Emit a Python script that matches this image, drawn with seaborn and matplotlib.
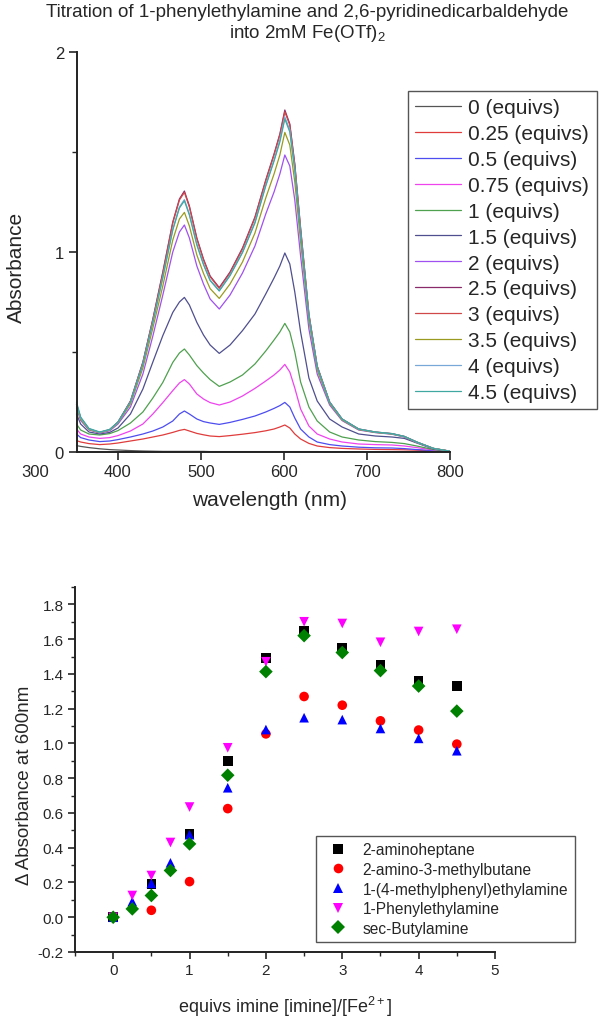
import pandas as pd
import matplotlib
matplotlib.use("Agg")
import matplotlib.pyplot as plt
import seaborn as sns
from matplotlib.ticker import MultipleLocator

sns.set_style("ticks")
plt.rcParams["font.family"] = ["Liberation Sans", "DejaVu Sans"]
plt.rcParams["mathtext.fontset"] = "custom"
plt.rcParams["mathtext.rm"] = "Liberation Sans"
plt.rcParams["mathtext.it"] = "Liberation Sans:italic"

# ---- spectra (top panel) ----
wavelength = [350, 355, 365, 378, 390, 400, 415, 430, 442, 454, 466, 474, 480, 486, 495,
              503, 511, 522, 535, 550, 565, 578, 588, 595, 601, 607, 613, 620, 630, 640,
              655, 670, 690, 710, 730, 745, 760, 780, 800]

eq_labels = ["0 (equivs)", "0.25 (equivs)", "0.5 (equivs)", "0.75 (equivs)", "1 (equivs)",
             "1.5 (equivs)", "2 (equivs)", "2.5 (equivs)", "3 (equivs)", "3.5 (equivs)",
             "4 (equivs)", "4.5 (equivs)"]

eq_colors = ["#555555", "#e03c3c", "#4d4df0", "#ee44ee", "#4fa04f", "#4f4f8f",
             "#a050f0", "#8b2a6b", "#d04848", "#9a9a20", "#78a8d8", "#40a8a0"]

abs_0 = [0.032, 0.028, 0.022, 0.016, 0.012, 0.010, 0.007, 0.005, 0.004, 0.003, 0.003, 0.003, 0.003,
         0.003, 0.003, 0.003, 0.002, 0.002, 0.002, 0.002, 0.002, 0.002, 0.002, 0.002, 0.002, 0.002,
         0.002, 0.002, 0.002, 0.002, 0.001, 0.001, 0.001, 0.001, 0.001, 0.001, 0.001, 0.001, 0.001]
abs_025 = [0.057, 0.050, 0.042, 0.037, 0.040, 0.045, 0.055, 0.065, 0.075, 0.085, 0.098, 0.108, 0.113,
           0.105, 0.093, 0.086, 0.080, 0.077, 0.082, 0.089, 0.097, 0.106, 0.115, 0.125, 0.135, 0.120,
           0.090, 0.065, 0.043, 0.030, 0.022, 0.018, 0.015, 0.013, 0.012, 0.011, 0.009, 0.005, 0.002]
abs_05 = [0.090, 0.072, 0.060, 0.052, 0.055, 0.062, 0.075, 0.090, 0.105, 0.125, 0.155, 0.190, 0.205,
          0.190, 0.165, 0.152, 0.145, 0.138, 0.148, 0.163, 0.180, 0.200, 0.218, 0.232, 0.248, 0.225,
          0.170, 0.115, 0.075, 0.050, 0.037, 0.030, 0.024, 0.021, 0.020, 0.017, 0.012, 0.007, 0.002]
abs_075 = [0.115, 0.090, 0.075, 0.068, 0.072, 0.082, 0.105, 0.140, 0.190, 0.247, 0.307, 0.345, 0.362,
           0.340, 0.290, 0.265, 0.247, 0.235, 0.250, 0.280, 0.318, 0.355, 0.385, 0.410, 0.438, 0.400,
           0.320, 0.215, 0.130, 0.090, 0.065, 0.050, 0.040, 0.037, 0.035, 0.030, 0.022, 0.010, 0.003]
abs_1 = [0.140, 0.110, 0.090, 0.085, 0.092, 0.107, 0.145, 0.200, 0.270, 0.348, 0.448, 0.495, 0.515,
         0.485, 0.432, 0.395, 0.362, 0.328, 0.350, 0.385, 0.440, 0.505, 0.560, 0.600, 0.643, 0.600,
         0.500, 0.350, 0.225, 0.155, 0.100, 0.075, 0.060, 0.052, 0.048, 0.042, 0.030, 0.012, 0.003]
abs_15 = [0.190, 0.140, 0.100, 0.090, 0.098, 0.120, 0.190, 0.315, 0.450, 0.582, 0.698, 0.750, 0.773,
          0.735, 0.648, 0.585, 0.535, 0.493, 0.535, 0.607, 0.690, 0.790, 0.870, 0.930, 0.995, 0.940,
          0.800, 0.600, 0.370, 0.255, 0.165, 0.125, 0.090, 0.080, 0.075, 0.068, 0.045, 0.015, 0.003]
abs_2 = [0.220, 0.158, 0.110, 0.095, 0.106, 0.140, 0.225, 0.390, 0.580, 0.785, 1.000, 1.100, 1.135,
         1.070, 0.930, 0.840, 0.765, 0.715, 0.785, 0.895, 1.030, 1.190, 1.300, 1.390, 1.485, 1.430,
         1.260, 0.980, 0.615, 0.390, 0.235, 0.157, 0.110, 0.097, 0.089, 0.075, 0.047, 0.017, 0.004]
abs_25 = [0.240, 0.170, 0.115, 0.098, 0.112, 0.150, 0.255, 0.450, 0.665, 0.900, 1.150, 1.265, 1.305,
          1.230, 1.070, 0.965, 0.880, 0.822, 0.900, 1.020, 1.175, 1.360, 1.490, 1.590, 1.710, 1.640,
          1.440, 1.120, 0.690, 0.430, 0.250, 0.165, 0.115, 0.100, 0.092, 0.078, 0.050, 0.018, 0.004]
abs_3 = [0.238, 0.168, 0.114, 0.097, 0.111, 0.148, 0.253, 0.447, 0.662, 0.895, 1.145, 1.260, 1.298,
         1.225, 1.065, 0.960, 0.876, 0.818, 0.895, 1.015, 1.170, 1.355, 1.485, 1.585, 1.700, 1.635,
         1.435, 1.115, 0.688, 0.428, 0.249, 0.164, 0.114, 0.099, 0.091, 0.077, 0.049, 0.018, 0.004]
abs_35 = [0.230, 0.163, 0.112, 0.097, 0.109, 0.145, 0.240, 0.420, 0.620, 0.830, 1.060, 1.165, 1.198,
          1.130, 0.985, 0.893, 0.817, 0.768, 0.840, 0.950, 1.095, 1.270, 1.390, 1.485, 1.598, 1.535,
          1.350, 1.050, 0.655, 0.410, 0.242, 0.160, 0.112, 0.098, 0.090, 0.076, 0.048, 0.018, 0.004]
abs_4 = [0.240, 0.170, 0.115, 0.098, 0.111, 0.148, 0.250, 0.440, 0.650, 0.875, 1.115, 1.225, 1.262,
         1.190, 1.040, 0.940, 0.860, 0.807, 0.885, 1.000, 1.150, 1.335, 1.460, 1.560, 1.675, 1.610,
         1.415, 1.100, 0.680, 0.425, 0.248, 0.164, 0.114, 0.099, 0.091, 0.077, 0.049, 0.018, 0.004]
abs_45 = [0.250, 0.175, 0.118, 0.100, 0.113, 0.150, 0.250, 0.440, 0.648, 0.872, 1.110, 1.220, 1.256,
          1.185, 1.035, 0.937, 0.857, 0.805, 0.882, 0.997, 1.145, 1.330, 1.455, 1.550, 1.665, 1.600,
          1.410, 1.095, 0.678, 0.425, 0.249, 0.165, 0.115, 0.100, 0.092, 0.078, 0.050, 0.018, 0.004]

spectra = [abs_0, abs_025, abs_05, abs_075, abs_1, abs_15, abs_2, abs_25, abs_3, abs_35, abs_4, abs_45]

# ---- delta absorbance at 600 nm (bottom panel) ----
amines = ["2-aminoheptane", "2-amino-3-methylbutane", "1-(4-methylphenyl)ethylamine",
          "1-Phenylethylamine", "sec-Butylamine"]
amine_colors = ["#000000", "#ff0000", "#0000ff", "#ff00ff", "#008000"]
amine_markers = ["s", "o", "^", "v", "D"]

eq_heptane = [0, 0.5, 1, 1.5, 2, 2.5, 3, 3.5, 4, 4.5]
dA_heptane = [0.0, 0.19, 0.48, 0.90, 1.49, 1.65, 1.55, 1.45, 1.36, 1.33]
eq_methylbutane = [0, 0.5, 1, 1.5, 2, 2.5, 3, 3.5, 4, 4.5]
dA_methylbutane = [0.0, 0.04, 0.205, 0.625, 1.055, 1.27, 1.22, 1.13, 1.077, 0.996]
eq_methylphenyl = [0, 0.25, 0.5, 0.75, 1, 1.5, 2, 2.5, 3, 3.5, 4, 4.5]
dA_methylphenyl = [0.0, 0.09, 0.195, 0.313, 0.475, 0.745, 1.08, 1.148, 1.137, 1.086, 1.029, 0.958]
eq_phenyl = [0, 0.25, 0.5, 0.75, 1, 1.5, 2, 2.5, 3, 3.5, 4, 4.5]
dA_phenyl = [0.0, 0.125, 0.24, 0.43, 0.634, 0.975, 1.47, 1.70, 1.69, 1.582, 1.644, 1.657]
eq_butyl = [0, 0.25, 0.5, 0.75, 1, 1.5, 2, 2.5, 3, 3.5, 4, 4.5]
dA_butyl = [0.0, 0.048, 0.125, 0.269, 0.422, 0.817, 1.413, 1.62, 1.523, 1.419, 1.33, 1.186]

# long-form tables for seaborn
spec_df = pd.concat(
    [pd.DataFrame({"wavelength": wavelength, "A": a, "equiv": lab}) for a, lab in zip(spectra, eq_labels)],
    ignore_index=True)

amine_x = [eq_heptane, eq_methylbutane, eq_methylphenyl, eq_phenyl, eq_butyl]
amine_y = [dA_heptane, dA_methylbutane, dA_methylphenyl, dA_phenyl, dA_butyl]
titr_df = pd.concat(
    [pd.DataFrame({"eq": x, "dA": y, "amine": n}) for x, y, n in zip(amine_x, amine_y, amines)],
    ignore_index=True)

fig = plt.figure(figsize=(6, 10.2), dpi=100)

# ---------------- top panel ----------------
ax1 = fig.add_axes([35 / 600, 1 - 453 / 1020, 415 / 600, 400 / 1020])
sns.lineplot(data=spec_df, x="wavelength", y="A", hue="equiv", hue_order=eq_labels,
             palette=eq_colors, estimator=None, sort=False, legend=False, linewidth=0.9, ax=ax1)
ax1.set_xlim(300, 800)
ax1.set_ylim(0, 2)
ax1.spines["top"].set_visible(False)
ax1.spines["right"].set_visible(False)
ax1.spines["left"].set_position(("data", 350))
ax1.spines["bottom"].set_bounds(350, 800)
for s in ("left", "bottom"):
    ax1.spines[s].set_linewidth(1.4)
    ax1.spines[s].set_color("#222222")
ax1.set_xticks([300, 400, 500, 600, 700, 800])
ax1.xaxis.set_minor_locator(MultipleLocator(50))
ax1.set_yticks([0, 1, 2])
ax1.yaxis.set_minor_locator(MultipleLocator(0.5))
ax1.tick_params(axis="both", which="major", direction="out", length=6, width=1.2, labelsize=12, pad=3)
ax1.tick_params(axis="both", which="minor", direction="out", length=3.5, width=1.0)
ax1.xaxis.get_major_ticks()[0].tick1line.set_visible(False)
for t in ax1.xaxis.get_minor_ticks():
    if t.get_loc() < 350:
        t.tick1line.set_visible(False)
ax1.set_xlabel("wavelength (nm)", fontsize=15)
ax1.set_ylabel("Absorbance", fontsize=15)
ax1.xaxis.set_label_coords(0.566, -0.095)
ax1.yaxis.set_label_coords(-0.022, 0.465)

fig.text(0.512, 1 - 4 / 1020,
         "Titration of 1-phenylethylamine and 2,6-pyridinedicarbaldehyde\ninto 2mM Fe(OTf)$_2$",
         ha="center", va="top", fontsize=13.5, linespacing=1.1)

fig.legend(ax1.lines, eq_labels, loc="upper left", bbox_to_anchor=(408 / 600, 1 - 92 / 1020),
           bbox_transform=fig.transFigure, fontsize=15, frameon=True, fancybox=False,
           edgecolor="#555555", framealpha=1, labelspacing=0.33, handlelength=2.2,
           handletextpad=0.35, borderpad=0.35, borderaxespad=0)

# ---------------- bottom panel ----------------
ax2 = fig.add_axes([75 / 600, 1 - 953 / 1020, 420 / 600, 365 / 1020])
sns.scatterplot(data=titr_df, x="eq", y="dA", hue="amine", style="amine", hue_order=amines,
                style_order=amines, palette=amine_colors, markers=amine_markers, s=48,
                linewidth=0, ax=ax2)
ax2.set_xlim(-0.5, 5)
ax2.set_ylim(-0.2, 1.9)
ax2.spines["top"].set_visible(False)
ax2.spines["right"].set_visible(False)
for s in ("left", "bottom"):
    ax2.spines[s].set_linewidth(1.4)
    ax2.spines[s].set_color("#222222")
ax2.xaxis.set_major_locator(MultipleLocator(1))
ax2.xaxis.set_minor_locator(MultipleLocator(0.5))
ax2.set_yticks([-0.2, 0.0, 0.2, 0.4, 0.6, 0.8, 1.0, 1.2, 1.4, 1.6, 1.8])
ax2.yaxis.set_minor_locator(MultipleLocator(0.1))
ax2.yaxis.set_major_formatter(matplotlib.ticker.FormatStrFormatter("%.1f"))
ax2.tick_params(axis="both", which="major", direction="out", length=5, width=1.2, labelsize=11, pad=3)
ax2.tick_params(axis="both", which="minor", direction="out", length=3, width=1.0)
ax2.set_xlabel("equivs imine [imine]/[Fe$^{2+}$]", fontsize=13)
ax2.set_ylabel("\u0394 Absorbance at 600nm", fontsize=13.5)
ax2.xaxis.set_label_coords(0.5, -0.115)
ax2.yaxis.set_label_coords(-0.10, 0.46)

h, l = ax2.get_legend_handles_labels()
ax2.legend(h, l, loc="upper left", bbox_to_anchor=(316 / 600, 1 - 837 / 1020),
           bbox_transform=fig.transFigure, fontsize=11.2, frameon=True, fancybox=False,
           edgecolor="#555555", framealpha=1, labelspacing=0.3, handletextpad=0.6,
           borderpad=0.4, borderaxespad=0, title=None)

fig.savefig("out.png", dpi=100)
